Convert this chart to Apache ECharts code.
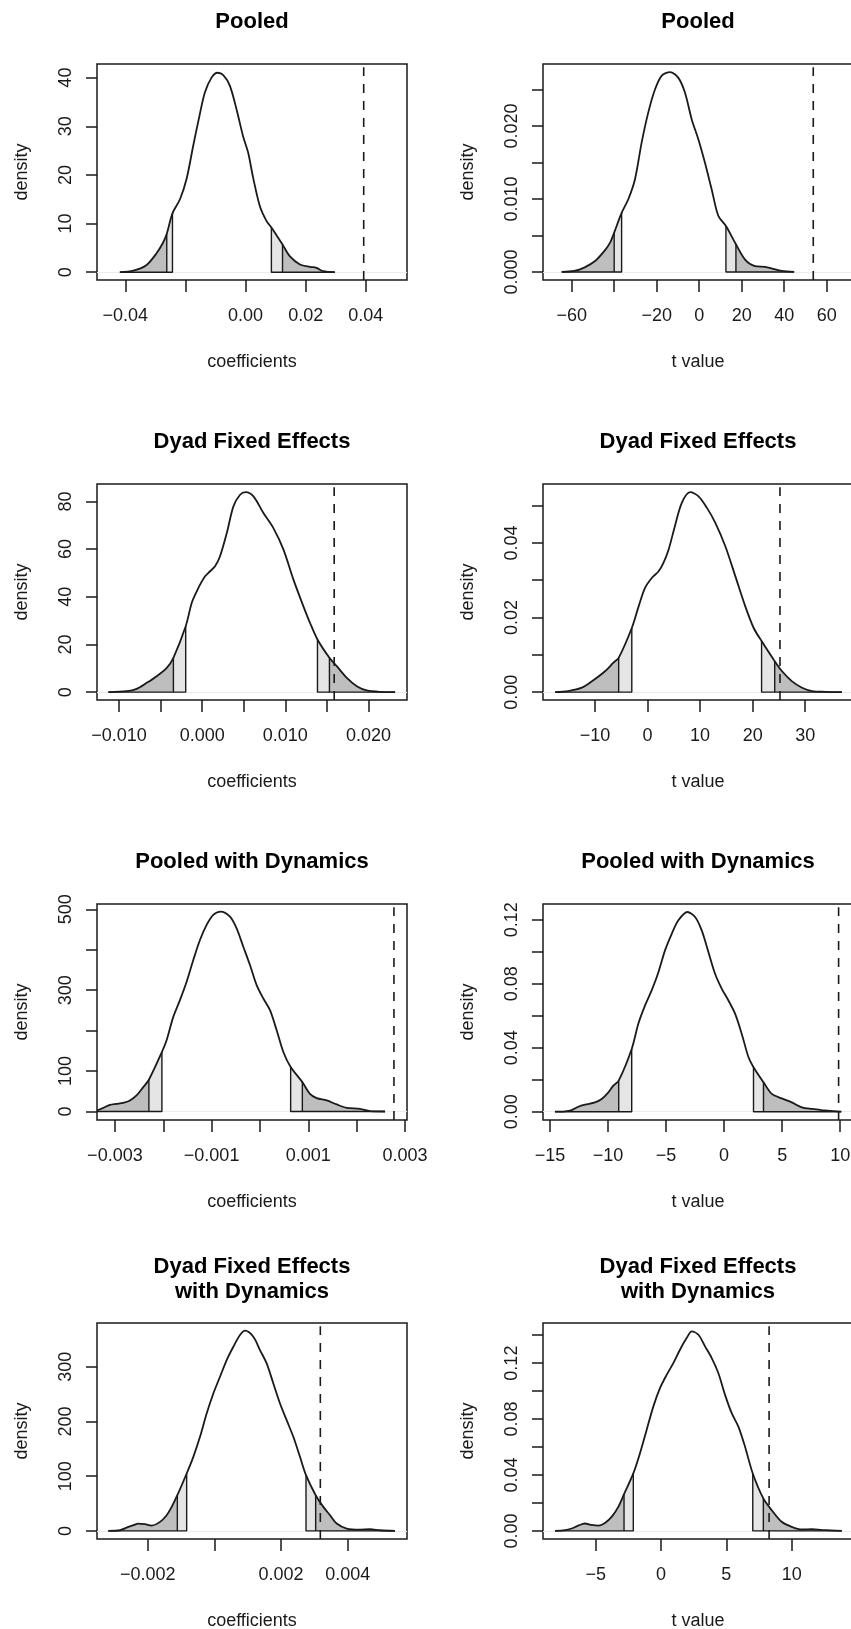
<!DOCTYPE html>
<html><head><meta charset="utf-8">
<script src="https://cdn.jsdelivr.net/npm/echarts@6/dist/echarts.min.js"></script>
<style>html,body{margin:0;padding:0;background:#fff;}#c{width:851px;height:1629px;}</style>
</head><body><div id="c"></div>
<script>
// ---------- titles / axis names ----------
const titles = ["Pooled","Pooled","Dyad Fixed Effects","Dyad Fixed Effects",
  "Pooled with Dynamics","Pooled with Dynamics","Dyad Fixed Effects\nwith Dynamics","Dyad Fixed Effects\nwith Dynamics"];
const xNames = ["coefficients","t value","coefficients","t value","coefficients","t value","coefficients","t value"];
const yName = "density";

// ---------- density curves [x, density] ----------
const p1Curve = [[-0.0418,0],[-0.0373,0.33],[-0.0329,1.5],[-0.0296,3.9],[-0.0275,6.0],[-0.0262,7.9],[-0.0243,12.1],[-0.0218,15.0],[-0.0196,19.2],[-0.0174,26.0],[-0.0152,32.5],[-0.0135,37.0],[-0.0113,40.0],[-0.0093,41.0],[-0.0074,40.5],[-0.0052,38.3],[-0.0030,33.5],[-0.0008,27.9],[0.0009,24.5],[0.0025,19.5],[0.0048,13.5],[0.0070,10.5],[0.0086,9.2],[0.0103,7.6],[0.0123,5.7],[0.0147,3.3],[0.0181,1.6],[0.0214,1.1],[0.0236,0.9],[0.0258,0.2],[0.0297,0]];
const p2Curve = [[-64.7,0],[-58.8,0.00014],[-54.1,0.0006],[-49.0,0.0015],[-44.3,0.0030],[-41.8,0.0041],[-40.0,0.0054],[-36.5,0.0081],[-33.3,0.0100],[-30.2,0.0127],[-27.1,0.0177],[-24.0,0.0218],[-20.8,0.0250],[-17.6,0.0269],[-13.7,0.0274],[-9.8,0.0266],[-6.7,0.0246],[-3.5,0.0209],[-0.4,0.0182],[2.7,0.0150],[5.9,0.0113],[9.0,0.0077],[12.6,0.0063],[17.3,0.0038],[21.6,0.0017],[26.3,0.0008],[31.0,0.0007],[34.1,0.0005],[38.8,0.00014],[44.7,0]];
const p3Curve = [[-0.01128,0],[-0.00908,0.4],[-0.00788,1.4],[-0.00667,3.9],[-0.00547,6.7],[-0.00426,10.2],[-0.00346,14.4],[-0.00198,27.6],[-0.00126,37.4],[-0.00065,42.3],[-0.00025,45.1],[0.00035,48.6],[0.00095,50.7],[0.00155,52.8],[0.00215,57.0],[0.00296,66.7],[0.00376,77.9],[0.00456,82.8],[0.00524,83.9],[0.00617,82.1],[0.00737,75.1],[0.00857,68.8],[0.00978,59.8],[0.01098,47.2],[0.01218,36.0],[0.01298,29.0],[0.01387,22.1],[0.01531,14.4],[0.01619,10.9],[0.01740,6.0],[0.01860,2.5],[0.01980,0.7],[0.02141,0.1],[0.02321,0]];
const p4Curve = [[-17.6,0],[-15.1,0.0003],[-12.5,0.0012],[-10.6,0.0029],[-8.1,0.0056],[-6.5,0.0079],[-5.5,0.0092],[-3.0,0.0172],[-1.7,0.0230],[-0.5,0.0279],[0.8,0.0306],[2.1,0.0324],[3.0,0.0346],[4.0,0.0382],[5.2,0.0445],[6.5,0.0507],[8.1,0.0536],[9.7,0.0525],[11.3,0.0494],[12.9,0.0454],[14.8,0.0391],[16.7,0.0311],[18.6,0.0230],[20.2,0.0172],[21.7,0.0137],[24.2,0.0083],[25.6,0.0056],[27.5,0.0029],[29.4,0.0012],[31.3,0.0003],[33.8,0.0001],[37.0,0]];
const p5Curve = [[-0.00337,2.5],[-0.003241,9.1],[-0.003103,16.5],[-0.002966,19.0],[-0.002828,21.5],[-0.002690,27.3],[-0.002552,39.7],[-0.002414,60.3],[-0.002297,78.5],[-0.002028,147.1],[-0.001931,176],[-0.001793,233.9],[-0.001655,275.2],[-0.001517,320.7],[-0.001379,374.4],[-0.001241,424],[-0.001103,461.2],[-0.000966,486],[-0.000814,494.2],[-0.000621,481.8],[-0.000483,452.9],[-0.000345,407.4],[-0.000207,362],[-0.000069,312.4],[0.000069,279.3],[0.000207,250.4],[0.000345,200.8],[0.000483,147.1],[0.000634,109.9],[0.000876,72.7],[0.001034,43.8],[0.001172,33.1],[0.001379,27.3],[0.001586,17.4],[0.001793,9.1],[0.002069,6.6],[0.002276,0.8],[0.002586,0]];
const p6Curve = [[-14.57,0],[-13.71,0.0002],[-13.13,0.001],[-12.56,0.0031],[-11.98,0.0044],[-11.12,0.0058],[-10.55,0.0079],[-9.97,0.0121],[-9.54,0.0163],[-9.08,0.0194],[-7.96,0.0392],[-7.39,0.0549],[-6.81,0.0664],[-6.24,0.0758],[-5.66,0.0872],[-5.09,0.1008],[-4.51,0.1112],[-3.94,0.1196],[-3.16,0.1248],[-2.50,0.1217],[-1.93,0.1133],[-1.35,0.0997],[-0.78,0.0862],[-0.20,0.0768],[0.37,0.0695],[0.95,0.0611],[1.52,0.0486],[2.10,0.0340],[2.53,0.0278],[3.39,0.0184],[4.11,0.0111],[4.97,0.0083],[5.83,0.0058],[6.70,0.0027],[7.56,0.0017],[8.42,0.001],[10.09,0]];
const p7Curve = [[-0.00318,0],[-0.00283,1.2],[-0.00258,7.3],[-0.00243,10.4],[-0.00228,13.4],[-0.00208,12.2],[-0.00188,9.8],[-0.00163,16.5],[-0.00143,28.7],[-0.00128,43.9],[-0.00111,65.2],[-0.00083,104.9],[-0.00063,135.4],[-0.00043,172],[-0.00023,214.6],[-0.00003,251.2],[0.00017,281.7],[0.00037,312.2],[0.00057,336.6],[0.00077,357.9],[0.00092,365.9],[0.00117,354.9],[0.00137,330.5],[0.00157,306.1],[0.00177,269.5],[0.00197,232.9],[0.00217,202.4],[0.00237,172],[0.00257,135.4],[0.00275,101.8],[0.00304,65.2],[0.00327,43.9],[0.00347,28.7],[0.00367,13.4],[0.00397,4.3],[0.00437,2.4],[0.00467,3.0],[0.00497,1.2],[0.00542,0]];
const p8Curve = [[-8.11,0],[-7.35,0.0005],[-6.84,0.0017],[-6.33,0.0038],[-5.82,0.0053],[-5.31,0.0043],[-4.80,0.0038],[-4.29,0.0057],[-3.78,0.0100],[-3.27,0.0172],[-2.83,0.0263],[-2.12,0.0411],[-1.61,0.0555],[-1.10,0.0722],[-0.59,0.0889],[-0.08,0.1021],[0.43,0.1116],[0.94,0.1200],[1.45,0.1296],[1.96,0.1379],[2.35,0.1427],[2.86,0.1403],[3.37,0.1320],[3.88,0.1236],[4.39,0.1128],[4.90,0.0973],[5.41,0.0842],[5.92,0.0746],[6.43,0.0602],[7.02,0.0411],[7.83,0.0232],[8.47,0.0148],[9.23,0.0065],[10.0,0.0029],[10.77,0.0010],[11.53,0.0012],[12.30,0.0007],[13.83,0]];

// ---------- quantile cut points [lower outer, lower inner, upper inner, upper outer] ----------
const p1Cuts = [-0.0262,-0.0243,0.0086,0.0123];
const p2Cuts = [-40.0,-36.5,12.6,17.3];
const p3Cuts = [-0.00346,-0.00198,0.01387,0.01531];
const p4Cuts = [-5.5,-3.0,21.7,24.2];
const p5Cuts = [-0.002297,-0.002028,0.000634,0.000876];
const p6Cuts = [-9.08,-7.96,2.53,3.39];
const p7Cuts = [-0.00111,-0.00083,0.00275,0.00304];
const p8Cuts = [-2.83,-2.12,7.02,7.83];

// ---------- observed values (dashed line) ----------
const observed = [0.0393, 53.7, 0.01588, 25.2, 0.00277, 9.86, 0.00318, 8.27];

// ---------- ticks and tick labels ----------
const p1XTicks = [-0.04,-0.02,0,0.02,0.04], p1XLabels = ["\u22120.04","0.00","0.02","0.04"];
const p1YTicks = [0,10,20,30,40], p1YLabels = ["0","10","20","30","40"];
const p2XTicks = [-60,-40,-20,0,20,40,60], p2XLabels = ["\u221260","\u221220","0","20","40","60"];
const p2YTicks = [0,0.005,0.01,0.015,0.02,0.025], p2YLabels = ["0.000","0.010","0.020"];
const p3XTicks = [-0.01,-0.005,0,0.005,0.01,0.015,0.02], p3XLabels = ["\u22120.010","0.000","0.010","0.020"];
const p3YTicks = [0,20,40,60,80], p3YLabels = ["0","20","40","60","80"];
const p4XTicks = [-10,0,10,20,30], p4XLabels = ["\u221210","0","10","20","30"];
const p4YTicks = [0,0.01,0.02,0.03,0.04,0.05], p4YLabels = ["0.00","0.02","0.04"];
const p5XTicks = [-0.003,-0.002,-0.001,0,0.001,0.002,0.003], p5XLabels = ["\u22120.003","\u22120.001","0.001","0.003"];
const p5YTicks = [0,100,200,300,400,500], p5YLabels = ["0","100","300","500"];
const p6XTicks = [-15,-10,-5,0,5,10], p6XLabels = ["\u221215","\u221210","\u22125","0","5","10"];
const p6YTicks = [0,0.02,0.04,0.06,0.08,0.1,0.12], p6YLabels = ["0.00","0.04","0.08","0.12"];
const p7XTicks = [-0.002,0,0.002,0.004], p7XLabels = ["\u22120.002","0.002","0.004"];
const p7YTicks = [0,100,200,300], p7YLabels = ["0","100","200","300"];
const p8XTicks = [-5,0,5,10], p8XLabels = ["\u22125","0","5","10"];
const p8YTicks = [0,0.02,0.04,0.06,0.08,0.1,0.12,0.14], p8YLabels = ["0.00","0.04","0.08","0.12"];

// ---------- axis ranges [min, max] ----------
const xRanges = [[-0.0494,0.0537],[-73.5,72.4],[-0.01265,0.02464],[-19.9,39.1],[-0.00337,0.00304],[-15.6,11.1],[-0.00352,0.00578],[-9.03,14.69]];
const yRanges = [[-1.6,42.8],[-0.0011,0.0285],[-3.3,87.3],[-0.0021,0.0558],[-21,513],[-0.0052,0.1298],[-14.8,380],[-0.0058,0.1487]];

// ---------- assemble ----------
const curves = [p1Curve,p2Curve,p3Curve,p4Curve,p5Curve,p6Curve,p7Curve,p8Curve];
const cuts = [p1Cuts,p2Cuts,p3Cuts,p4Cuts,p5Cuts,p6Cuts,p7Cuts,p8Cuts];
const xTicks = [p1XTicks,p2XTicks,p3XTicks,p4XTicks,p5XTicks,p6XTicks,p7XTicks,p8XTicks];
const xLabels = [p1XLabels,p2XLabels,p3XLabels,p4XLabels,p5XLabels,p6XLabels,p7XLabels,p8XLabels];
const yTicks = [p1YTicks,p2YTicks,p3YTicks,p4YTicks,p5YTicks,p6YTicks,p7YTicks,p8YTicks];
const yLabels = [p1YLabels,p2YLabels,p3YLabels,p4YLabels,p5YLabels,p6YLabels,p7YLabels,p8YLabels];

const FONT = '"Liberation Sans", Arial, Helvetica, sans-serif';
const INK = '#1a1a1a';
const DARK = '#bebebe', LIGHT = '#e5e5e5';
const SMOOTH = 0.3;
const colLeft = [97, 543], rowTop = [64, 484, 904, 1323];
const BOX_W = 310, BOX_H = 216;

const toNum = s => parseFloat(s.replace('\u2212','-'));
function labelFmt(labels, range){
  const vals = labels.map(toNum), tol = Math.abs(range[1]-range[0])*1e-6;
  return v => { const i = vals.findIndex(u => Math.abs(u - v) < tol); return i < 0 ? '' : labels[i]; };
}
function pointAt(curve, x){
  const tol = Math.abs(curve[curve.length-1][0] - curve[0][0]) * 1e-6;
  return curve.find(p => Math.abs(p[0] - x) < tol);
}
function segment(curve, lo, hi){
  const tol = Math.abs(hi - lo) * 1e-6 + 1e-12;
  return curve.filter(p => p[0] >= lo - tol && p[0] <= hi + tol);
}

const grids = [], xAxes = [], yAxes = [], series = [], graphics = [];
for (let i = 0; i < 8; i++) {
  const col = i % 2, row = Math.floor(i / 2);
  grids.push({left: colLeft[col], top: rowTop[row], width: BOX_W, height: BOX_H,
    show: true, borderColor: INK, borderWidth: 1.5, backgroundColor: 'transparent',
    containLabel: false, outerBoundsMode: 'none'});
  xAxes.push({type: 'value', gridIndex: i, min: xRanges[i][0], max: xRanges[i][1],
    name: xNames[i], nameLocation: 'middle', nameGap: 73,
    nameTextStyle: {fontFamily: FONT, fontSize: 18, color: INK},
    axisLine: {show: false, onZero: false}, splitLine: {show: false},
    axisTick: {show: true, inside: false, length: 12, lineStyle: {color: INK, width: 1.5}, customValues: xTicks[i]},
    axisLabel: {show: true, margin: 27, fontFamily: FONT, fontSize: 18, color: INK,
      customValues: xLabels[i].map(toNum), formatter: labelFmt(xLabels[i], xRanges[i]), hideOverlap: false}
  });
  yAxes.push({type: 'value', gridIndex: i, min: yRanges[i][0], max: yRanges[i][1],
    name: yName, nameLocation: 'middle', nameGap: 66,
    nameTextStyle: {fontFamily: FONT, fontSize: 18, color: INK},
    axisLine: {show: false, onZero: false}, splitLine: {show: false},
    axisTick: {show: true, inside: false, length: 11, lineStyle: {color: INK, width: 1.5}, customValues: yTicks[i]},
    axisLabel: {show: true, rotate: 90, margin: 22, fontFamily: FONT, fontSize: 18, color: INK,
      customValues: yLabels[i].map(toNum), formatter: labelFmt(yLabels[i], yRanges[i]), hideOverlap: false}
  });

  const curve = curves[i], c = cuts[i];
  const first = curve[0][0], last = curve[curve.length - 1][0];
  const base = {type: 'line', xAxisIndex: i, yAxisIndex: i, showSymbol: false, symbol: 'none', silent: true};

  // shaded tail regions
  const regions = [[first, c[0], DARK], [c[0], c[1], LIGHT], [c[2], c[3], LIGHT], [c[3], last, DARK]];
  regions.forEach(r => {
    series.push(Object.assign({}, base, {z: 2, smooth: SMOOTH, data: segment(curve, r[0], r[1]),
      lineStyle: {opacity: 0, width: 0}, areaStyle: {color: r[2], opacity: 1, origin: 0}}));
  });
  // region outlines: bottoms and vertical edges
  const pa1 = pointAt(curve, c[0]), pa2 = pointAt(curve, c[1]), pb1 = pointAt(curve, c[2]), pb2 = pointAt(curve, c[3]);
  const outlines = [
    [[first, 0], [c[1], 0], pa2],
    [[c[0], 0], pa1],
    [pb1, [c[2], 0], [last, 0]],
    [[c[3], 0], pb2]
  ];
  outlines.forEach(d => series.push(Object.assign({}, base, {z: 3, data: d, lineStyle: {color: INK, width: 1.4}})));

  // density curve
  series.push(Object.assign({}, base, {z: 4, data: curve, smooth: SMOOTH,
    lineStyle: {color: INK, width: 1.8},
    markLine: {silent: true, symbol: 'none', label: {show: false}, z: 1, animation: false,
      lineStyle: {color: '#ececec', type: 'solid', width: 1}, data: [{yAxis: 0}]}
  }));
  // observed value
  series.push(Object.assign({}, base, {z: 5,
    data: [[observed[i], yRanges[i][0]], [observed[i], yRanges[i][1] - (yRanges[i][1]-yRanges[i][0])*0.015]],
    lineStyle: {color: INK, width: 1.6, type: [9, 8]}
  }));
  // title
  const cx = colLeft[col] + BOX_W / 2;
  const twoLine = titles[i].indexOf('\n') >= 0;
  graphics.push({type: 'text', x: cx, y: twoLine ? rowTop[row] - 44 : rowTop[row] - 42,
    style: {text: titles[i], font: 'bold 22px ' + FONT, fill: '#000', align: 'center', verticalAlign: 'middle',
      textAlign: 'center', textVerticalAlign: 'middle', lineHeight: 25}});
}

const chart = echarts.init(document.getElementById('c'), null, {renderer: 'canvas', width: 851, height: 1629});
chart.setOption({
  animation: false, backgroundColor: '#fff',
  grid: grids, xAxis: xAxes, yAxis: yAxes, series: series, graphic: graphics
});
</script></body></html>
